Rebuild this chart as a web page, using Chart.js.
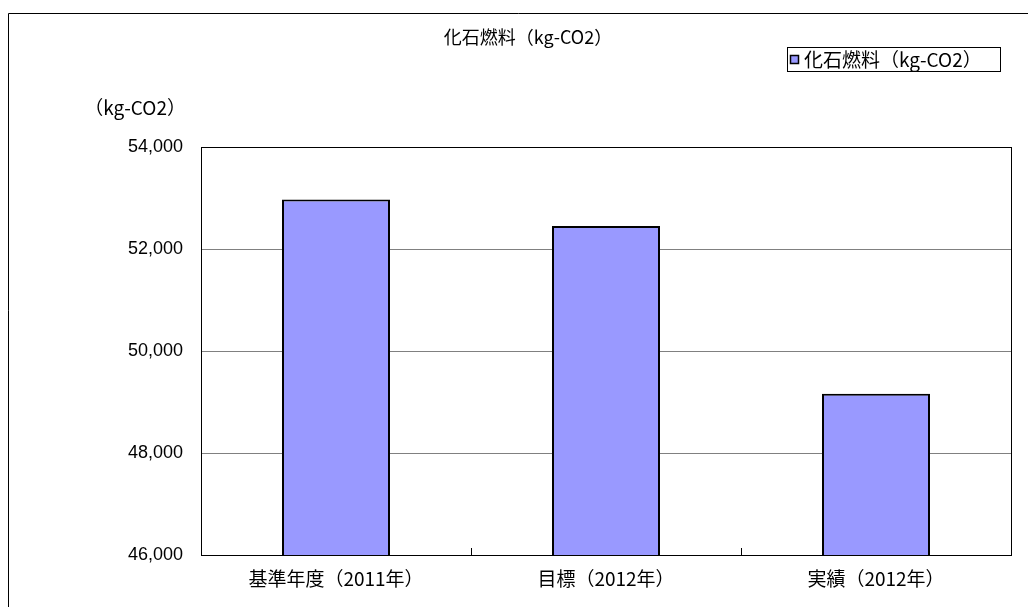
<!DOCTYPE html>
<html>
<head>
<meta charset="utf-8">
<script src="https://cdn.jsdelivr.net/npm/chart.js@4/dist/chart.umd.min.js"></script>
<style>
  html, body { margin: 0; padding: 0; background: #fff; }
  #wrap { width: 1028px; height: 607px; position: relative; }
</style>
</head>
<body>
<div id="wrap"><canvas id="myChart" width="1028" height="607"></canvas></div>
<script>
const chartTitle = "化石燃料（kg-CO2）";
const seriesName = "化石燃料（kg-CO2）";
const unitLabel = "（kg-CO2）";
const categories = ["基準年度（2011年）", "目標（2012年）", "実績（2012年）"];
const co2Values = [52970, 52450, 49160];
const yTicks = [46000, 48000, 50000, 52000, 54000];

const jpFont = "'Noto Sans CJK JP', 'Noto Sans', sans-serif";
const numFont = "'Liberation Sans', Arial, sans-serif";
const barFill = "#9999ff";

// frame, title, unit label, legend, inner ticks
const decorations = {
    id: "decorations",
    afterDraw(chart) {
        const c = chart.ctx;
        const area = chart.chartArea;
        c.save();
        // outer frame
        c.strokeStyle = "#000";
        c.lineWidth = 1;
        c.beginPath();
        c.moveTo(8.5, 607);
        c.lineTo(8.5, 13.5);
        c.lineTo(1028, 13.5);
        c.stroke();
        // plot border
        c.strokeRect(Math.round(area.left) + 0.5, Math.round(area.top) + 0.5,
            Math.round(area.right - area.left), Math.round(area.bottom - area.top));
        // inward ticks between categories
        const xs = chart.scales.x;
        for (let i = 1; i < categories.length; i++) {
            const px = Math.round((xs.getPixelForValue(i - 1) + xs.getPixelForValue(i)) / 2) + 0.5;
            c.beginPath();
            c.moveTo(px, area.bottom);
            c.lineTo(px, area.bottom - 7);
            c.stroke();
        }
        // title
        c.fillStyle = "#000";
        c.font = "18px " + jpFont;
        c.textAlign = "center";
        c.textBaseline = "middle";
        c.fillText(chartTitle, 528, 37);
        // unit label
        c.font = "19px " + jpFont;
        c.textAlign = "right";
        c.fillText(unitLabel, 186, 108);
        // legend
        c.fillStyle = "#fff";
        c.fillRect(787.5, 47.5, 213, 24);
        c.strokeRect(787.5, 47.5, 213, 24);
        c.fillStyle = barFill;
        c.fillRect(790.5, 55.5, 8, 8);
        c.lineWidth = 1.5;
        c.strokeRect(790.5, 55.5, 8, 8);
        c.fillStyle = "#000";
        c.font = "19px " + jpFont;
        c.textAlign = "left";
        c.fillText(seriesName, 804, 60);
        c.restore();
    }
};

const ctx = document.getElementById("myChart").getContext("2d");
const myChart = new Chart(ctx, {
    type: "bar",
    data: {
        labels: categories,
        datasets: [
            {
                label: seriesName,
                data: co2Values,
                backgroundColor: barFill,
                borderColor: "#000",
                borderWidth: 2,
                barPercentage: 0.4,
                categoryPercentage: 1.0,
            },
        ],
    },
    options: {
        responsive: false,
        animation: false,
        layout: { padding: { top: 147, right: 17, left: 0, bottom: 0 } },
        plugins: {
            legend: { display: false },
            title: { display: false },
            tooltip: { enabled: false },
        },
        scales: {
            x: {
                grid: { display: false, drawTicks: false },
                border: { display: true, color: "#000", width: 1 },
                ticks: {
                    color: "#000",
                    padding: 12,
                    font: { family: jpFont, size: 19 },
                    maxRotation: 0,
                },
                afterFit(scale) { scale.height = 52; },
            },
            y: {
                min: 46000,
                max: 54000,
                afterBuildTicks(scale) {
                    scale.ticks = yTicks.map(v => ({ value: v }));
                },
                grid: { color: "#808080", lineWidth: 1, drawTicks: false },
                border: { display: true, color: "#000", width: 1 },
                ticks: {
                    color: "#000",
                    padding: 18,
                    font: { family: numFont, size: 18 },
                    callback: v => v.toLocaleString("en-US"),
                },
                afterFit(scale) { scale.width = 201; },
            },
        },
    },
    plugins: [decorations],
});
</script>
</body>
</html>
